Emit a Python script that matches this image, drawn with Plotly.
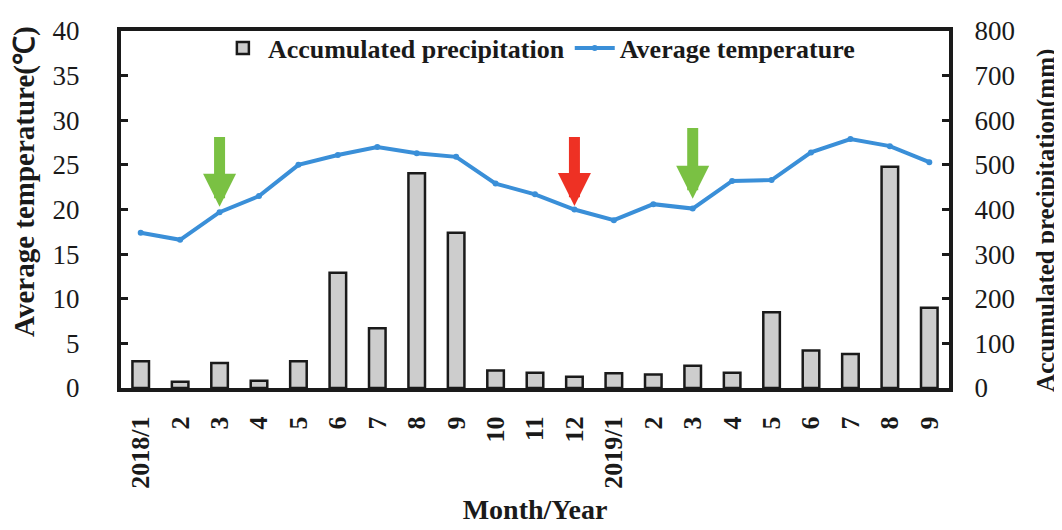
import plotly.graph_objects as go

months = ["2018/1", "2", "3", "4", "5", "6", "7", "8", "9", "10", "11", "12",
          "2019/1", "2", "3", "4", "5", "6", "7", "8", "9"]
temperature = [17.4, 16.6, 19.7, 21.5, 25.0, 26.1, 27.0, 26.3, 25.9, 22.9, 21.7, 20.0,
               18.8, 20.6, 20.1, 23.2, 23.3, 26.4, 27.9, 27.1, 25.3]
precipitation = [60, 14, 56, 16, 60, 258, 134, 481, 348, 39, 34, 25,
                 33, 30, 50, 34, 170, 84, 76, 496, 180]

# arrows: (category index, top value, tip value, colour)
arrow_idx = [2, 11, 14]
arrow_top = [28.3, 28.3, 29.3]
arrow_tip = [20.3, 20.4, 21.2]
arrow_col = ["#7ac143", "#ee3124", "#7ac143"]

x = list(range(len(months)))
font_family = "Liberation Serif, Times New Roman, serif"
ink = "#1a1a1a"

fig = go.Figure()
fig.add_trace(go.Bar(
    x=x, y=precipitation, yaxis="y2", name="Accumulated precipitation",
    marker=dict(color="#cdcdcd", line=dict(color=ink, width=2.5)),
    width=0.42,
))
fig.add_trace(go.Scatter(
    x=x, y=temperature, yaxis="y", name="Average temperature",
    mode="lines+markers",
    line=dict(color="#3a8fd8", width=4),
    marker=dict(color="#3a8fd8", size=6),
))

for i, t, b, c in zip(arrow_idx, arrow_top, arrow_tip, arrow_col):
    fig.add_annotation(
        x=i, y=b, ax=i, ay=t, xref="x", yref="y", axref="x", ayref="y",
        showarrow=True, arrowhead=2, arrowsize=0.6, arrowwidth=11,
        arrowcolor=c, text="", standoff=0,
    )

# axis titles for the two value axes
fig.add_annotation(
    text="Average temperature(℃)", xref="paper", yref="paper",
    x=-0.116, y=0.58, xanchor="center", yanchor="middle", textangle=-90,
    showarrow=False, font=dict(family=font_family, size=29, weight="bold", color=ink),
)
fig.add_annotation(
    text="Accumulated precipitation(mm)", xref="paper", yref="paper",
    x=1.118, y=0.47, xanchor="center", yanchor="middle", textangle=-90,
    showarrow=False, font=dict(family=font_family, size=25, weight="bold", color=ink),
)

fig.update_layout(
    width=1062, height=530,
    margin=dict(l=113, r=121, t=23, b=150),
    paper_bgcolor="white", plot_bgcolor="white",
    font=dict(family=font_family, color=ink, size=26),
    barmode="overlay",
    showlegend=True,
    legend=dict(
        orientation="h", x=0.117, y=0.952, xanchor="left", yanchor="middle",
        font=dict(family=font_family, size=26, weight="bold", color=ink),
        bgcolor="rgba(0,0,0,0)", itemwidth=40, tracegroupgap=0,
    ),
    xaxis=dict(
        range=[-0.5, len(months) - 0.5], automargin=False,
        tickmode="array", tickvals=x, ticktext=months,
        tickangle=-90, ticks="", ticklabelstandoff=14,
        tickfont=dict(family=font_family, size=26, weight="bold"),
        showline=True, linecolor=ink, linewidth=4, mirror=True,
        showgrid=False, zeroline=False,
        title=dict(text="Month/Year", font=dict(family=font_family, size=28, weight="bold"), standoff=13),
    ),
    yaxis=dict(
        range=[0, 40], dtick=5, automargin=False,
        ticks="inside", ticklen=7, tickwidth=3, tickcolor=ink,
        ticklabelstandoff=32,
        tickfont=dict(family=font_family, size=27),
        showline=True, linecolor=ink, linewidth=4,
        showgrid=False, zeroline=False,
    ),
    yaxis2=dict(
        range=[0, 800], dtick=100, overlaying="y", side="right", automargin=False,
        ticks="inside", ticklen=7, tickwidth=3, tickcolor=ink,
        ticklabelstandoff=16,
        tickfont=dict(family=font_family, size=27),
        showline=True, linecolor=ink, linewidth=4,
        showgrid=False, zeroline=False,
    ),
)

fig.write_html("out.html")
